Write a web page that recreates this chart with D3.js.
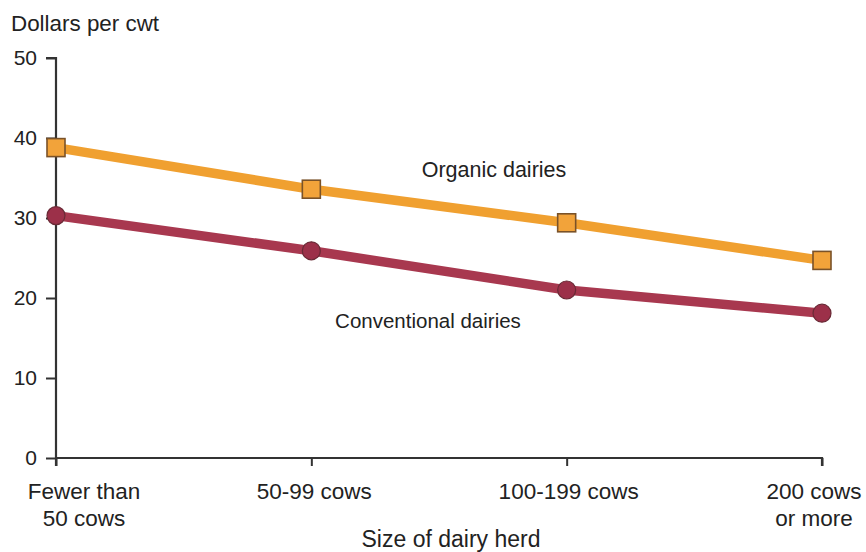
<!DOCTYPE html>
<html><head><meta charset="utf-8">
<script src="https://cdn.jsdelivr.net/npm/d3@7/dist/d3.min.js"></script>
<style>body{margin:0;background:#fff}svg{display:block}text{font-family:"Liberation Sans",Arial,sans-serif;fill:#222}</style>
</head><body><svg id="c" width="866" height="552"></svg>
<script>
const categories = ["Fewer than|50 cows", "50-99 cows", "100-199 cows", "200 cows|or more"];
const organic = [38.8, 33.6, 29.4, 24.7];
const conventional = [30.3, 25.9, 21.0, 18.1];
const yTicks = [0, 10, 20, 30, 40, 50];
const labelOffsets = [28, 3, 2, -8];

const svg = d3.select("#c");
const x = d3.scalePoint().domain(categories).range([56, 822]);
const y = d3.scaleLinear().domain([0, 50]).range([458, 58]);

// y axis
const ya = svg.append("g").attr("transform", "translate(56,0)")
  .call(d3.axisLeft(y).tickValues(yTicks).tickSize(10).tickPadding(9));
ya.select(".domain").attr("stroke", "#333").attr("stroke-width", 2.2).attr("d", "M-10," + y(50) + "H0V" + (y(0)+8));
ya.selectAll(".tick line").attr("stroke", "#333").attr("stroke-width", 2);
ya.selectAll(".tick text").style("font-size", "21px").attr("fill", "#222");

// x axis
const xa = svg.append("g").attr("transform", "translate(0,458)")
  .call(d3.axisBottom(x).tickSize(8).tickFormat(""));
xa.select(".domain").attr("stroke", "#333").attr("stroke-width", 2.2).attr("d", "M56,0H822V8");
xa.selectAll(".tick line").attr("stroke", "#333").attr("stroke-width", 2);
categories.forEach((c, i) => {
  const t = svg.append("text").attr("text-anchor", "middle").style("font-size", "22.5px")
    .attr("transform", `translate(${x(c) + labelOffsets[i]},499)`);
  c.split("|").forEach((s, j) => t.append("tspan").attr("x", 0).attr("dy", j ? 27 : 0).text(s));
});

svg.append("text").attr("x", 11).attr("y", 31).style("font-size", "22.4px").text("Dollars per cwt");
svg.append("text").attr("x", 451).attr("y", 547).attr("text-anchor", "middle").style("font-size", "23px").text("Size of dairy herd");

const line = d3.line().x((d, i) => x(categories[i])).y(d => y(d));
svg.append("path").datum(conventional).attr("d", line).attr("fill", "none")
  .attr("stroke", "#a8384f").attr("stroke-width", 9.5).attr("stroke-linecap", "round");
svg.append("path").datum(organic).attr("d", line).attr("fill", "none")
  .attr("stroke", "#f0a030").attr("stroke-width", 9.5).attr("stroke-linecap", "round");

svg.selectAll("rect.m").data(organic).enter().append("rect").attr("class", "m")
  .attr("x", (d, i) => x(categories[i]) - 9).attr("y", d => y(d) - 9)
  .attr("width", 18).attr("height", 18)
  .attr("fill", "#f2a33a").attr("stroke", "#7a5228").attr("stroke-width", 1.6);
svg.selectAll("circle.m").data(conventional).enter().append("circle").attr("class", "m")
  .attr("cx", (d, i) => x(categories[i])).attr("cy", d => y(d)).attr("r", 9)
  .attr("fill", "#9c3049").attr("stroke", "#6a2a36").attr("stroke-width", 1.2);

svg.append("text").attr("x", 494).attr("y", 177).attr("text-anchor", "middle").style("font-size", "21.5px").text("Organic dairies");
svg.append("text").attr("x", 428).attr("y", 328).attr("text-anchor", "middle").style("font-size", "20.5px").text("Conventional dairies");
</script></body></html>
